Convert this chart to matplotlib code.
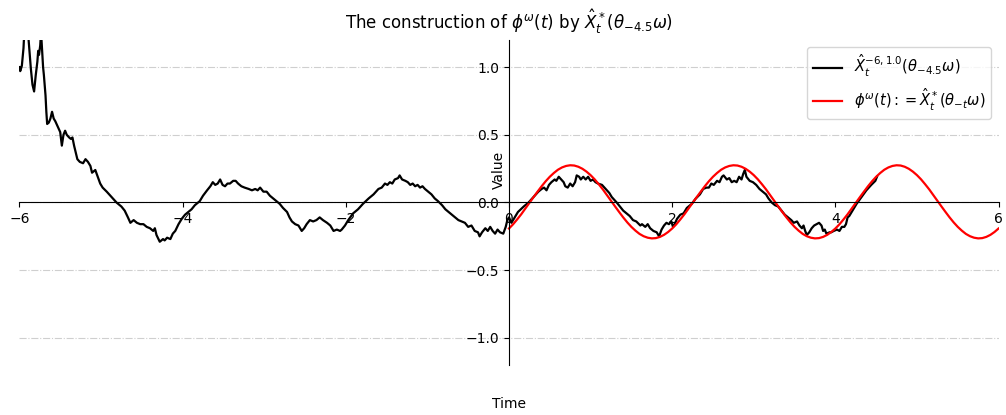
import matplotlib
matplotlib.use("Agg")
import matplotlib.pyplot as plt

# Black path X_t^{-6,1.0}(theta_{-4.5} omega)
black_t = [-6.00, -5.99, -5.97, -5.95, -5.94, -5.91, -5.89, -5.88, -5.86, -5.84,
           -5.82, -5.80, -5.78, -5.77, -5.76, -5.745, -5.735, -5.72, -5.71, -5.70,
           -5.68, -5.67, -5.66, -5.64, -5.62, -5.60, -5.58, -5.56, -5.53, -5.50,
           -5.48, -5.46, -5.44, -5.42, -5.39, -5.37, -5.35, -5.33, -5.31, -5.29,
           -5.26, -5.22, -5.19, -5.16, -5.13, -5.11, -5.07, -5.04, -5.01, -4.98,
           -4.93, -4.87, -4.81, -4.75, -4.71, -4.67, -4.64, -4.60, -4.56, -4.52,
           -4.48, -4.44, -4.40, -4.36, -4.34, -4.32, -4.28, -4.24, -4.22, -4.19,
           -4.15, -4.12, -4.09, -4.05, -4.01, -3.97, -3.93, -3.89, -3.85, -3.79,
           -3.75, -3.70, -3.66, -3.63, -3.60, -3.57, -3.54, -3.51, -3.48, -3.45,
           -3.42, -3.38, -3.35, -3.32, -3.28, -3.24, -3.19, -3.15, -3.11, -3.08,
           -3.05, -3.01, -2.97, -2.93, -2.89, -2.85, -2.81, -2.77, -2.72, -2.69,
           -2.66, -2.62, -2.58, -2.54, -2.51, -2.48, -2.44, -2.40, -2.36, -2.32,
           -2.28, -2.23, -2.19, -2.15, -2.11, -2.07, -2.05, -2.01, -1.97, -1.91,
           -1.85, -1.79, -1.72, -1.66, -1.60, -1.56, -1.52, -1.49, -1.46, -1.43,
           -1.40, -1.36, -1.34, -1.31, -1.27, -1.24, -1.21, -1.18, -1.15, -1.12,
           -1.09, -1.06, -1.03, -0.99, -0.95, -0.91, -0.87, -0.82, -0.78, -0.74,
           -0.70, -0.66, -0.62, -0.58, -0.54, -0.50, -0.46, -0.42, -0.38, -0.36,
           -0.33, -0.29, -0.26, -0.23, -0.20, -0.17, -0.14, -0.11, -0.07, -0.04,
           -0.02, 0.00, 0.03, 0.07, 0.11, 0.18, 0.24, 0.30, 0.36, 0.40,
           0.43, 0.46, 0.49, 0.52, 0.56, 0.58, 0.61, 0.64, 0.67, 0.69,
           0.72, 0.75, 0.78, 0.81, 0.83, 0.86, 0.88, 0.91, 0.94, 0.97,
           1.00, 1.03, 1.06, 1.09, 1.14, 1.17, 1.20, 1.23, 1.26, 1.29,
           1.32, 1.36, 1.40, 1.44, 1.48, 1.52, 1.56, 1.61, 1.63, 1.67,
           1.70, 1.73, 1.77, 1.81, 1.84, 1.87, 1.90, 1.93, 1.96, 1.99,
           2.01, 2.03, 2.06, 2.10, 2.14, 2.18, 2.24, 2.29, 2.34, 2.38,
           2.42, 2.45, 2.48, 2.51, 2.55, 2.58, 2.61, 2.63, 2.67, 2.70,
           2.73, 2.76, 2.79, 2.82, 2.85, 2.87, 2.89, 2.91, 2.95, 2.99,
           3.03, 3.07, 3.11, 3.15, 3.18, 3.22, 3.26, 3.30, 3.34, 3.38,
           3.42, 3.46, 3.49, 3.53, 3.56, 3.59, 3.61, 3.63, 3.65, 3.68,
           3.71, 3.74, 3.77, 3.80, 3.83, 3.85, 3.87, 3.89, 3.93, 3.95,
           3.98, 4.02, 4.05, 4.08, 4.11, 4.13, 4.15, 4.17, 4.20, 4.23,
           4.26, 4.32, 4.38, 4.44, 4.49, 4.51]
black_y = [1.00, 0.97, 1.01, 1.14, 1.26, 1.30, 1.22, 1.14, 0.99, 0.87,
           0.82, 0.94, 1.04, 1.12, 1.09, 1.16, 1.26, 1.10, 1.00, 0.94,
           0.79, 0.67, 0.58, 0.59, 0.62, 0.67, 0.62, 0.60, 0.56, 0.52,
           0.42, 0.50, 0.53, 0.50, 0.48, 0.47, 0.48, 0.42, 0.37, 0.32,
           0.30, 0.29, 0.32, 0.30, 0.27, 0.22, 0.24, 0.19, 0.14, 0.11,
           0.08, 0.04, 0.00, -0.03, -0.06, -0.11, -0.15, -0.13, -0.15, -0.16,
           -0.16, -0.18, -0.19, -0.21, -0.19, -0.24, -0.29, -0.27, -0.28, -0.26,
           -0.27, -0.23, -0.21, -0.16, -0.12, -0.09, -0.07, -0.05, -0.02, 0.01,
           0.05, 0.09, 0.12, 0.15, 0.13, 0.14, 0.17, 0.13, 0.12, 0.14,
           0.14, 0.16, 0.16, 0.14, 0.12, 0.11, 0.10, 0.09, 0.10, 0.09,
           0.11, 0.08, 0.08, 0.05, 0.03, 0.01, -0.01, -0.04, -0.07, -0.11,
           -0.14, -0.16, -0.17, -0.21, -0.19, -0.16, -0.13, -0.14, -0.13, -0.11,
           -0.13, -0.15, -0.17, -0.21, -0.20, -0.21, -0.20, -0.17, -0.13, -0.08,
           -0.05, -0.01, 0.03, 0.06, 0.10, 0.11, 0.14, 0.13, 0.15, 0.14,
           0.17, 0.18, 0.20, 0.17, 0.16, 0.15, 0.13, 0.14, 0.12, 0.13,
           0.11, 0.12, 0.10, 0.08, 0.06, 0.03, 0.01, -0.02, -0.05, -0.07,
           -0.09, -0.11, -0.13, -0.14, -0.15, -0.18, -0.17, -0.21, -0.22, -0.25,
           -0.22, -0.19, -0.21, -0.18, -0.21, -0.23, -0.20, -0.22, -0.23, -0.18,
           -0.13, -0.11, -0.15, -0.11, -0.07, -0.03, 0.00, 0.04, 0.08, 0.10,
           0.11, 0.09, 0.13, 0.15, 0.17, 0.16, 0.19, 0.17, 0.15, 0.12,
           0.11, 0.14, 0.12, 0.15, 0.20, 0.19, 0.17, 0.19, 0.17, 0.19,
           0.16, 0.17, 0.15, 0.14, 0.13, 0.11, 0.09, 0.07, 0.04, 0.02,
           0.00, -0.03, -0.06, -0.08, -0.10, -0.13, -0.14, -0.17, -0.16, -0.18,
           -0.16, -0.19, -0.21, -0.22, -0.25, -0.20, -0.17, -0.15, -0.16, -0.14,
           -0.18, -0.16, -0.12, -0.09, -0.08, -0.04, -0.01, 0.03, 0.06, 0.10,
           0.11, 0.11, 0.14, 0.13, 0.16, 0.15, 0.19, 0.20, 0.17, 0.18,
           0.15, 0.16, 0.15, 0.19, 0.17, 0.21, 0.24, 0.19, 0.16, 0.15,
           0.13, 0.10, 0.08, 0.06, 0.03, 0.00, -0.02, -0.03, -0.06, -0.09,
           -0.11, -0.13, -0.15, -0.14, -0.17, -0.19, -0.17, -0.21, -0.24, -0.22,
           -0.19, -0.17, -0.16, -0.15, -0.17, -0.21, -0.20, -0.23, -0.22, -0.22,
           -0.21, -0.20, -0.21, -0.18, -0.18, -0.16, -0.11, -0.10, -0.07, -0.04,
           -0.01, 0.04, 0.09, 0.13, 0.16, 0.19]

# Red curve phi^omega(t) at steps of 0.05
red_t = [i / 20 for i in range(121)]
red_y = [-0.192, -0.161, -0.125, -0.087, -0.045, -0.003, 0.039, 0.080, 0.120, 0.157,
         0.190, 0.218, 0.242, 0.259, 0.270, 0.275, 0.273, 0.264, 0.249, 0.228,
         0.202, 0.171, 0.135, 0.097, 0.055, 0.013, -0.029, -0.070, -0.110, -0.147,
         -0.180, -0.208, -0.232, -0.249, -0.260, -0.265, -0.263, -0.254, -0.239, -0.218,
         -0.192, -0.161, -0.125, -0.087, -0.045, -0.003, 0.039, 0.080, 0.120, 0.157,
         0.190, 0.218, 0.242, 0.259, 0.270, 0.275, 0.273, 0.264, 0.249, 0.228,
         0.202, 0.171, 0.135, 0.097, 0.055, 0.013, -0.029, -0.070, -0.110, -0.147,
         -0.180, -0.208, -0.232, -0.249, -0.260, -0.265, -0.263, -0.254, -0.239, -0.218,
         -0.192, -0.161, -0.125, -0.087, -0.045, -0.003, 0.039, 0.080, 0.120, 0.157,
         0.190, 0.218, 0.242, 0.259, 0.270, 0.275, 0.273, 0.264, 0.249, 0.228,
         0.202, 0.171, 0.135, 0.097, 0.055, 0.013, -0.029, -0.070, -0.110, -0.147,
         -0.180, -0.208, -0.232, -0.249, -0.260, -0.265, -0.263, -0.254, -0.239, -0.218,
         -0.192]

x_ticks = [-6, -4, -2, 0, 2, 4, 6]
y_ticks = [-1.0, -0.5, 0.0, 0.5, 1.0]

label_black = r'$\hat{X}_t^{-6,1.0}(\theta_{-4.5}\omega)$'
label_red = r'$\phi^\omega(t) := \hat{X}_t^*(\theta_{-t}\omega)$'
title = r'The construction of $\phi^\omega(t)$ by $\hat{X}_t^*(\theta_{-4.5}\omega)$'

fig = plt.figure(figsize=(10.06, 4.15), dpi=100)
ax = fig.add_axes([0.0193, 0.1205, 0.9733, 0.7831])

ax.plot(black_t, black_y, color='black', lw=1.6, label=label_black)
ax.plot(red_t, red_y, color='red', lw=1.6, label=label_red)

ax.set_xlim(-6, 6)
ax.set_ylim(-1.2, 1.2)
ax.set_xticks(x_ticks)
ax.set_yticks(y_ticks)

ax.spines['left'].set_position('zero')
ax.spines['bottom'].set_position('zero')
ax.spines['right'].set_visible(False)
ax.spines['top'].set_visible(False)

ax.grid(axis='y', linestyle='-.', alpha=0.6)

ax.set_title(title, pad=8)
ax.set_xlabel('Time')
ax.set_ylabel('Value')
ax.xaxis.set_label_coords(0.5, -0.1)
ax.yaxis.set_label_coords(0.497, 0.6)

ax.legend(loc='upper right', prop={'size': 10.5})

fig.savefig('out.png', dpi=100)
